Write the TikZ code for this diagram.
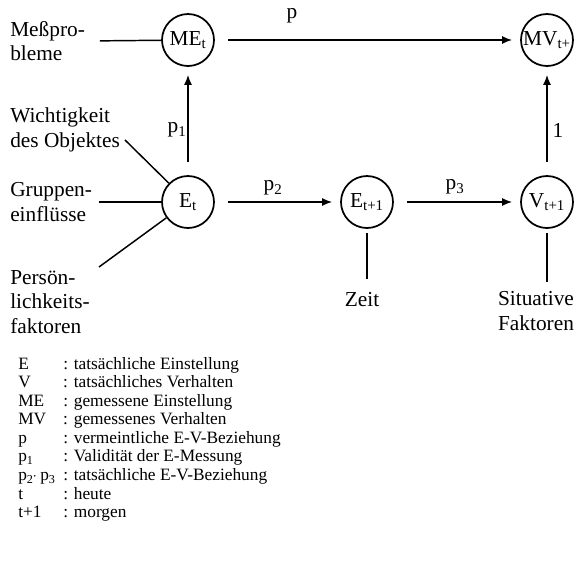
\documentclass[tikz,border=0pt]{standalone}
\usepackage{fontspec}
\setmainfont{Liberation Serif}
\usetikzlibrary{arrows.meta}

\begin{document}
\begin{tikzpicture}[x=0.75pt,y=-0.75pt,
    state/.style={circle,draw,line width=1.3pt,minimum size=39pt,inner sep=0pt,font=\fontsize{16}{18}\selectfont},
    lbl/.style={inner sep=0pt,align=left,font=\fontsize{16}{18.5}\selectfont},
    arr/.style={-{Latex[length=7.5pt,width=6pt]},line width=1.1pt,shorten <=10pt,shorten >=6pt},
    con/.style={line width=1.1pt}]
    \useasboundingbox (0,0) rectangle (576,562);
    % states
    \node (ME) at (188,40) [state] {ME\textsubscript{t}};
    \node (MV) at (547,40) [state] {MV\textsubscript{t+}};
    \node (E) at (188,202) [state] {E\textsubscript{t}};
    \node (E1) at (367,202) [state] {E\textsubscript{t+1}};
    \node (V) at (547,202) [state] {V\textsubscript{t+1}};
    % paths
    \draw [arr] (ME)--(MV);
    \draw [arr] (E)--(ME);
    \draw [arr] (E)--(E1);
    \draw [arr] (E1)--(V);
    \draw [arr] (V)--(MV);
    \node (lp) at (292,16) [lbl] {p};
    \node (lp1) at (177,130) [lbl] {p\textsubscript{1}};
    \node (lp2) at (273,188) [lbl] {p\textsubscript{2}};
    \node (lp3) at (455,187) [lbl] {p\textsubscript{3}};
    \node (lone) at (558,130) [lbl] {1};
    % influences
    \node (mess) at (10,41) [lbl,anchor=west] {Meßpro-\\bleme};
    \node (wicht) at (10,130) [lbl,anchor=west] {Wichtigkeit\\des Objektes};
    \node (grp) at (10,202) [lbl,anchor=west] {Gruppen-\\einflüsse};
    \node (pers) at (10,302) [lbl,anchor=west] {Persön-\\lichkeits-\\faktoren};
    \node (zeit) at (362,300) [lbl] {Zeit};
    \node (sit) at (536,311) [lbl,align=center] {Situative\\Faktoren};
    \coordinate (wicht-end) at (125,140);
    \coordinate (pers-end) at (99,267);
    \draw [con,shorten <=11pt] (mess.east)--(ME);
    \draw [con] (wicht-end)--(E);
    \draw [con,shorten <=5pt] (grp.east)--(E);
    \draw [con] (pers-end)--(E);
    \draw [con,shorten <=3pt,shorten >=10pt] (E1)--(E1 |- zeit.north);
    \draw [con,shorten <=3pt,shorten >=7pt] (V)--(V |- sit.north);
    % legend
    \node (legend) at (18,357) [anchor=north west,inner sep=0pt,align=left,font=\fontsize{13}{13.9}\selectfont] {%
      \makebox[33.75pt][l]{E}: tatsächliche Einstellung\\
      \makebox[33.75pt][l]{V}: tatsächliches Verhalten\\
      \makebox[33.75pt][l]{ME}: gemessene Einstellung\\
      \makebox[33.75pt][l]{MV}: gemessenes Verhalten\\
      \makebox[33.75pt][l]{p}: vermeintliche E-V-Beziehung\\
      \makebox[33.75pt][l]{p\textsubscript{1}}: Validität der E-Messung\\
      \makebox[33.75pt][l]{p\textsubscript{2}\raisebox{0.3ex}{\tiny\textbullet} p\textsubscript{3}}: tatsächliche E-V-Beziehung\\
      \makebox[33.75pt][l]{t}: heute\\
      \makebox[33.75pt][l]{t+1}: morgen};
\end{tikzpicture}
\end{document}
